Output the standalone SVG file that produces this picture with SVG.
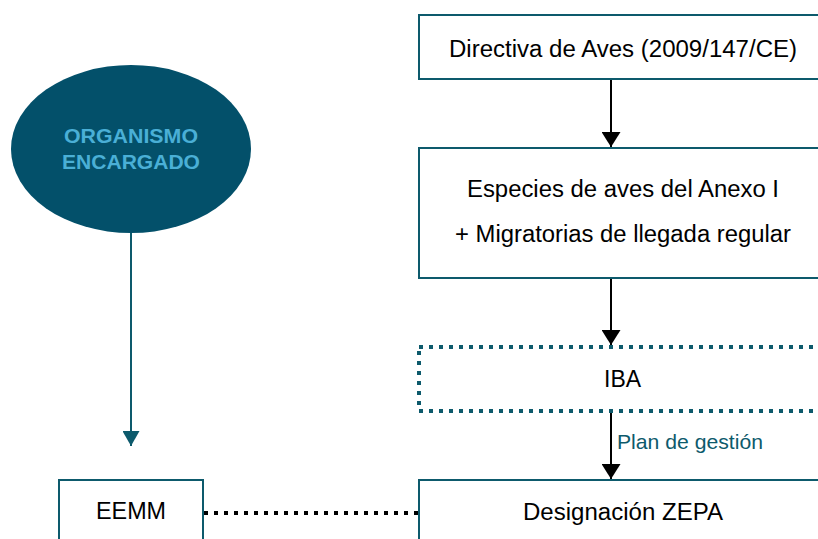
<svg xmlns="http://www.w3.org/2000/svg" width="818" height="539" viewBox="0 0 818 539">
<defs>
<style>
.box{fill:#fff;stroke:#0d5a6c;stroke-width:2}
.dot{fill:#fff;stroke:#0d5a6c;stroke-width:4;stroke-dasharray:4 6}
.t{font-family:"Liberation Sans",Arial,sans-serif;font-size:23px;fill:#000;text-anchor:middle}
.lbl{font-family:"Liberation Sans",Arial,sans-serif;font-size:21px;fill:#0d5a6c}
.org{font-family:"Liberation Sans",Arial,sans-serif;font-size:21px;font-weight:bold;fill:#4aafd6;text-anchor:middle}
</style>
<marker id="ab" viewBox="0 0 10 10" preserveAspectRatio="none" refX="10" refY="5" markerWidth="15" markerHeight="19" markerUnits="userSpaceOnUse" orient="auto">
<path d="M0,0 L10,5 L0,10 z" fill="#000"/>
</marker>
<marker id="at" viewBox="0 0 10 10" preserveAspectRatio="none" refX="10" refY="5" markerWidth="15" markerHeight="17" markerUnits="userSpaceOnUse" orient="auto">
<path d="M0,0 L10,5 L0,10 z" fill="#0d5a6c"/>
</marker>
</defs>
<g id="connectors">
<line x1="611" y1="80" x2="611" y2="147" stroke="#000" stroke-width="2" marker-end="url(#ab)"/>
<line x1="611" y1="279" x2="611" y2="345" stroke="#000" stroke-width="2" marker-end="url(#ab)"/>
<line x1="611" y1="412" x2="611" y2="479" stroke="#000" stroke-width="2" marker-end="url(#ab)"/>
<text class="lbl" x="617" y="449" textLength="146" lengthAdjust="spacingAndGlyphs">Plan de gestión</text>
<line x1="131" y1="233" x2="131" y2="446" stroke="#0d5a6c" stroke-width="2" marker-end="url(#at)"/>
<line x1="204" y1="513" x2="419" y2="513" stroke="#000" stroke-width="4" stroke-dasharray="4 6"/>
</g>
<g id="organismo">
<ellipse cx="131" cy="149" rx="120" ry="84" fill="#03506a"/>
<text class="org" x="131" y="143" textLength="134" lengthAdjust="spacingAndGlyphs">ORGANISMO</text>
<text class="org" x="131" y="169" textLength="138" lengthAdjust="spacingAndGlyphs">ENCARGADO</text>
</g>
<g id="directiva">
<rect class="box" x="419" y="15" width="420" height="64"/>
<text class="t" x="623" y="57" textLength="348" lengthAdjust="spacingAndGlyphs">Directiva de Aves (2009/147/CE)</text>
</g>
<g id="especies">
<rect class="box" x="419" y="148" width="420" height="130"/>
<text class="t" x="623" y="197" textLength="312" lengthAdjust="spacingAndGlyphs">Especies de aves del Anexo I</text>
<text class="t" x="623" y="242" textLength="336" lengthAdjust="spacingAndGlyphs">+ Migratorias de llegada regular</text>
</g>
<g id="iba">
<rect class="dot" x="419" y="347" width="420" height="64"/>
<text class="t" x="622.5" y="387" textLength="37" lengthAdjust="spacingAndGlyphs">IBA</text>
</g>
<g id="zepa">
<rect class="box" x="419" y="480" width="420" height="80"/>
<text class="t" x="623" y="520" textLength="200" lengthAdjust="spacingAndGlyphs">Designación ZEPA</text>
</g>
<g id="eemm">
<rect class="box" x="59" y="480" width="144" height="80"/>
<text class="t" x="131" y="519" textLength="70" lengthAdjust="spacingAndGlyphs">EEMM</text>
</g>
</svg>
